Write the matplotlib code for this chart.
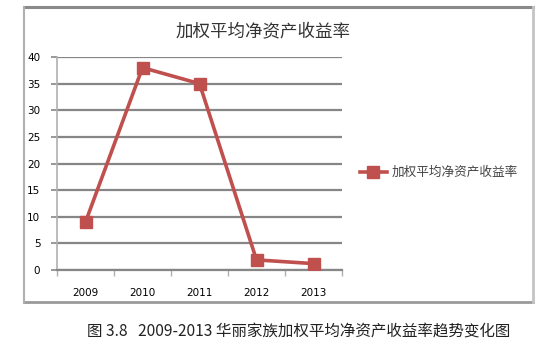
import matplotlib
matplotlib.use("Agg")
import matplotlib.pyplot as plt
from matplotlib.lines import Line2D

plt.rcParams['font.family'] = ['Noto Sans CJK SC', 'DejaVu Sans']

years = ['2009', '2010', '2011', '2012', '2013']
roe = [9.0, 38.0, 35.0, 1.9, 1.2]
series_name = '加权平均净资产收益率'
title = '加权平均净资产收益率'
caption = '图 3.8   2009-2013 华丽家族加权平均净资产收益率趋势变化图'
y_ticks = [0, 5, 10, 15, 20, 25, 30, 35, 40]

W, H = 553, 345
fig = plt.figure(figsize=(W / 100, H / 100), dpi=100)
fig.patch.set_facecolor('white')

# chart frame
frame_l, frame_r, frame_t, frame_b = 23.5, 533, 6.5, 302
fig.add_artist(Line2D([frame_l / W, frame_r / W], [1 - frame_t / H] * 2,
                      color='#8a8a8a', lw=2.2, transform=fig.transFigure))
fig.add_artist(Line2D([frame_l / W, frame_r / W], [1 - frame_b / H] * 2,
                      color='#9a9a9a', lw=2.0, transform=fig.transFigure))
fig.add_artist(Line2D([frame_l / W] * 2, [1 - frame_t / H, 1 - frame_b / H],
                      color='#b0b0b0', lw=1.5, transform=fig.transFigure))
fig.add_artist(Line2D([frame_r / W] * 2, [1 - frame_t / H, 1 - frame_b / H],
                      color='#c4c4c4', lw=2.0, transform=fig.transFigure))

ax_l, ax_r, ax_t, ax_b = 57, 342, 57, 270
ax = fig.add_axes([ax_l / W, 1 - ax_b / H, (ax_r - ax_l) / W, (ax_b - ax_t) / H])
ax.set_facecolor('none')

x = list(range(len(years)))
ax.plot(x, roe, color='#C0504D', lw=2.6, marker='s', markersize=8,
        markerfacecolor='#C0504D', markeredgecolor='#C0504D', zorder=3,
        label=series_name)

ax.set_xlim(-0.5, len(years) - 0.5)
ax.set_ylim(0, 40)
ax.set_yticks(y_ticks)
ax.set_yticklabels([str(v) for v in y_ticks], fontsize=7.5, family='DejaVu Sans')
ax.yaxis.grid(True, color='#868686', lw=1.6)
ax.set_axisbelow(True)

ax.set_xticks(x)
ax.set_xticklabels(years, fontsize=7.5, family='DejaVu Sans')
ax.tick_params(axis='x', length=0, pad=13)
ax.set_xticks([i - 0.5 for i in range(len(years) + 1)], minor=True)
ax.tick_params(axis='x', which='minor', length=4, color='#b0b0b0', width=1)
ax.tick_params(axis='y', length=4, color='#868686', width=1.2, pad=8)

for s in ['top', 'right']:
    ax.spines[s].set_visible(False)
ax.spines['left'].set_color('#b0b0b0')
ax.spines['left'].set_linewidth(1.2)
ax.spines['bottom'].set_color('#868686')
ax.spines['bottom'].set_linewidth(1.6)

fig.text(263.5 / W, 1 - 31 / H, title, ha='center', va='center',
         fontsize=12.6, color='#333333')

leg = fig.legend(loc='center left', bbox_to_anchor=(355 / W, 1 - 172.5 / H),
                 frameon=False, fontsize=9.1, handlelength=2.1,
                 handletextpad=0.4, borderaxespad=0)
for t in leg.get_texts():
    t.set_color('#444444')

fig.text(87 / W, 1 - 332 / H, caption, ha='left', va='center',
         fontsize=11.2, color='#222222')

fig.savefig('out.png', dpi=100)
